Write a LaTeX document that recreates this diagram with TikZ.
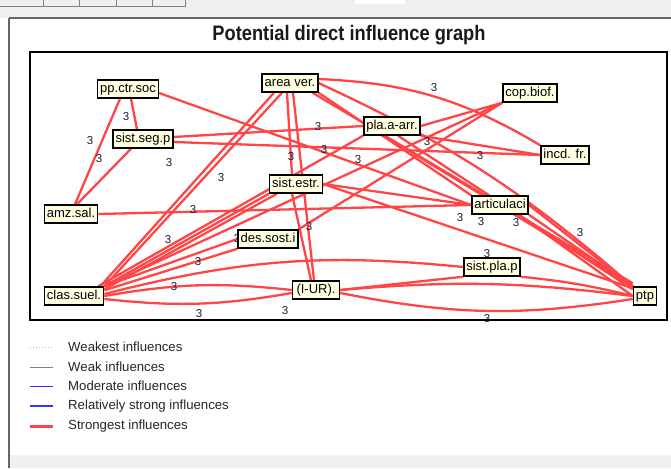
\documentclass[tikz,border=0pt]{standalone}
\usepackage{fontspec}
\setmainfont{Liberation Sans}
\newfontfamily\titlefont{Liberation Sans}[FakeStretch=0.87]
\usetikzlibrary{positioning,backgrounds}
\definecolor{infred}{HTML}{FF4545}
\definecolor{infblue}{HTML}{3535FF}
\definecolor{nodefill}{HTML}{FFFFE1}
\definecolor{lblnavy}{HTML}{1C1C3C}
\definecolor{winbg}{HTML}{F0F0F0}

\begin{document}
\begin{tikzpicture}[
  x=1pt, y=-1pt,
  var/.style={draw=black, line width=1.5pt, fill=nodefill, inner xsep=2.5pt, inner ysep=0pt,
              minimum height=18pt, text height=9.5pt, text depth=2.5pt,
              font=\fontsize{13}{14}\selectfont},
  inf/.style={draw=infred, line width=2.3pt},
  wt/.style={font=\fontsize{11.5}{12}\selectfont, text=lblnavy, inner sep=0pt},
  leg/.style={font=\fontsize{13.2}{14}\selectfont, anchor=west, inner sep=0pt, text=black!85}
]
\useasboundingbox (0,0) rectangle (671,468);

% window
\fill[winbg] (0,0) rectangle (671,18);
\fill[white] (355,0) rectangle (405,4);
\draw[gray, line width=1pt] (0,7) -- (185,7);
\foreach \tx in {43,79,116,152,185}
  \draw[gray, line width=1pt] (\tx,0) -- (\tx,7);
\draw[gray!80!black, line width=1.2pt] (9,18) -- (671,18);
\draw[gray!80!black, line width=1.2pt] (9,18) -- (9,468);
\fill[winbg] (10,455) rectangle (671,468);
\node[font=\titlefont\bfseries\fontsize{21}{23}\selectfont, text=black!90] (title) at (349,35)
  {Potential direct influence graph};
\draw[black, line width=1.2pt] (30,52) rectangle (667,320);

% variables
\node[var] (ppctr) at (128,89) {pp.ctr.soc};
\node[var] (areaver) at (290,83) {area ver.};
\node[var] (sistseg) at (143,139) {sist.seg.p};
\node[var] (sistestr) at (296,184) {sist.estr.};
\node[var] (plaarr) at (392,126) {pla.a-arr.};
\node[var] (copbiof) at (530,93) {cop.biof.};
\node[var] (incdfr) at (565,155) {incd. fr.};
\node[var] (amzsal) at (71,214) {amz.sal.};
\node[var] (dessost) at (268,239) {des.sost.i};
\node[var] (classuel) at (74,296) {clas.suel.};
\node[var, minimum width=47pt] (iur) at (316,290) {(I-UR).};
\node[var] (articulaci) at (500,205) {articulaci};
\node[var] (sistpla) at (492,267) {sist.pla.p};
\node[var] (ptp) at (645,296) {ptp};

\begin{scope}[on background layer]
\draw[inf] ([xshift=-8pt]ppctr.south) -- ([xshift=4pt]amzsal.north);
\draw[inf] ([xshift=3pt]ppctr.south) -- ([xshift=-6pt]sistseg.north);
\draw[inf] ([yshift=-4pt]ppctr.east) -- (articulaci.west);
\draw[inf] ([xshift=-12pt]sistseg.south) -- ([xshift=6pt]amzsal.north);
\draw[inf] ([yshift=2pt]sistseg.east) -- (plaarr.west);
\draw[inf] ([yshift=-3pt]sistseg.east) -- (incdfr.west);
\draw[inf] ([xshift=-16pt]areaver.south) -- ([xshift=-4pt]classuel.north east);
\draw[inf] ([xshift=-8pt]areaver.south) -- (classuel.north east);
\draw[inf] ([xshift=-3pt]areaver.south) -- ([xshift=-4pt]sistestr.north);
\draw[inf] ([xshift=3pt]areaver.south) -- ([xshift=-2pt]iur.north);
\draw[inf] ([xshift=-4pt]sistestr.south) -- ([xshift=-5pt]iur.north);
\draw[inf] ([yshift=4pt]areaver.east) to[bend left=14] (incdfr.north west);
\draw[inf] (areaver.east) to[bend left=8] (ptp.north west);
\draw[inf] (areaver.south east) -- (articulaci.north west);
\draw[inf] ([xshift=-6pt]areaver.south east) -- ([yshift=3pt]ptp.north west);
\draw[inf] (plaarr.east) -- (copbiof.south west);
\draw[inf] (copbiof.south west) -- (classuel.north east);
\draw[inf] (copbiof.south west) -- (dessost.north east);
\draw[inf] (plaarr.south east) -- (incdfr.west);
\draw[inf] ([xshift=-8pt]plaarr.south) -- (ptp.north west);
\draw[inf] ([xshift=6pt]plaarr.south) -- ([yshift=-3pt]ptp.north west);
\draw[inf] (plaarr.south west) -- ([xshift=-6pt]classuel.north east);
\draw[inf] (amzsal.east) -- (articulaci.west);
\draw[inf] (sistestr.south west) -- (classuel.north east);
\draw[inf] ([xshift=8pt]sistestr.south west) -- ([yshift=-3pt]classuel.north east);
\draw[inf] (sistestr.east) -- ([yshift=-2pt]ptp.north west);
\draw[inf] (sistestr.east) -- (articulaci.west);
\draw[inf] (classuel.north east) -- (dessost.west);
\draw[inf] ([yshift=-4pt]classuel.north east) -- (dessost.south west);
\draw[inf] (classuel.east) to[bend left=8] (iur.west);
\draw[inf] ([yshift=-3pt]classuel.east) to[bend right=8] ([yshift=-3pt]iur.west);
\draw[inf] ([yshift=2pt]classuel.east) to[bend left=10] (sistpla.west);
\draw[inf] (iur.east) -- (sistpla.south west);
\draw[inf] (iur.east) to[bend left=6] (ptp.west);
\draw[inf] ([yshift=-3pt]iur.east) to[bend right=10] ([yshift=-3pt]ptp.west);
\draw[inf] (sistpla.south east) to[bend left=4] (ptp.west);
\draw[inf] (articulaci.east) -- (ptp.north west);
\draw[inf] (articulaci.south east) -- (ptp.north west);
\draw[inf] ([xshift=-10pt]articulaci.south east) -- (ptp.west);

% weights
\foreach \p [count=\i] in {(90,141),(99,159),(126,117),(169,163),(221,178),(291,157),
    (318,127),(324,150),(434,88),(427,142),(358,160),(480,156),(193,210),(168,240),
    (198,262),(237,239),(309,227),(174,287),(199,314),(285,311),(460,218),(481,222),
    (516,223),(580,233),(487,254),(487,319)}
  \node[wt] (w\i) at \p {3};
\end{scope}

% legend
\draw[gray!50, dotted, line width=1pt] (30,347) -- (53,347);
\node[leg] (legweakest) at (68,347) {Weakest influences};
\draw[gray, line width=1pt] (30,367) -- (53,367);
\node[leg] (legweak) at (68,367) {Weak influences};
\draw[infblue, line width=1pt] (30,386) -- (53,386);
\node[leg] (legmod) at (68,386) {Moderate influences};
\draw[infblue, line width=2.5pt] (30,406) -- (53,406);
\node[leg] (legstrong) at (68,406) {Relatively strong influences};
\draw[infred, line width=3pt] (30,426) -- (53,426);
\node[leg] (legstrongest) at (68,426) {Strongest influences};
\end{tikzpicture}
\end{document}
